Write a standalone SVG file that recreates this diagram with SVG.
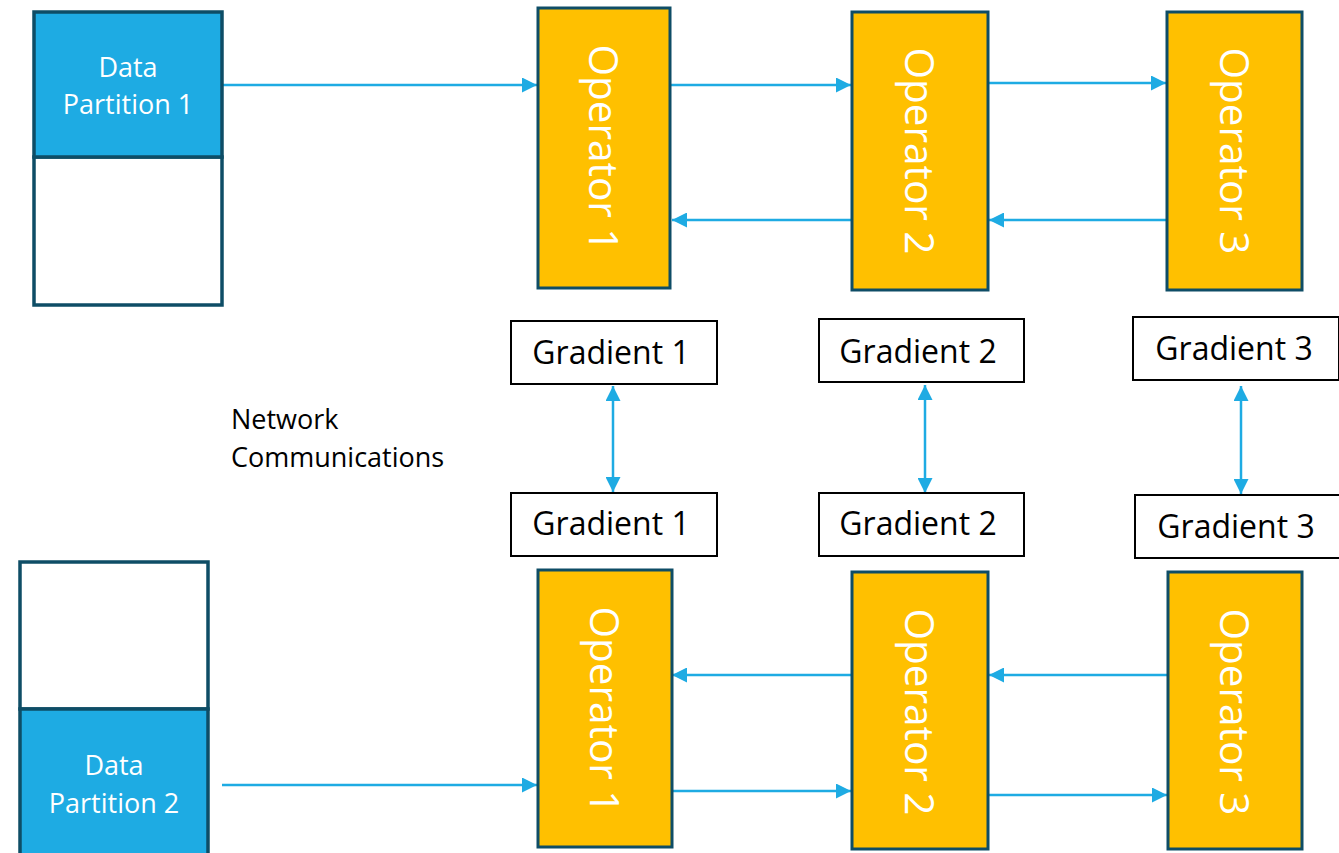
<svg xmlns="http://www.w3.org/2000/svg" width="1339" height="853" viewBox="0 0 1339 853">
<defs>
<marker id="ah" markerUnits="userSpaceOnUse" markerWidth="15" markerHeight="15" refX="15" refY="7.5" orient="auto-start-reverse" viewBox="0 0 15 15">
<path d="M0,0 L15,7.5 L0,15 z" fill="#1EABE3"/>
</marker>
<style>
.op{fill:#FFC000;stroke:#0E4D66;stroke-width:3}
.dp{fill:#1EABE3;stroke:#0E4D66;stroke-width:3.5}
.dpw{fill:#FFFFFF;stroke:#0E4D66;stroke-width:3.5}
.gb{fill:#FFFFFF;stroke:#000000;stroke-width:2}
.opt{font-family:"Open Sans","Noto Sans",sans-serif;font-weight:400;font-size:41px;fill:#FFFFFF;text-anchor:middle}
.dpt{font-family:"Open Sans","Noto Sans",sans-serif;font-size:27px;fill:#FFFFFF;text-anchor:middle}
.gt{font-family:"Open Sans","Noto Sans",sans-serif;font-size:32px;fill:#000000;text-anchor:middle}
.nt{font-family:"Open Sans","Noto Sans",sans-serif;font-size:27px;fill:#000000}
.c{stroke:#1EABE3;stroke-width:2.5;fill:none;marker-end:url(#ah)}
.cd{stroke:#1EABE3;stroke-width:2.5;fill:none;marker-end:url(#ah);marker-start:url(#ah)}
</style>
</defs>
<rect width="1339" height="853" fill="#FFFFFF"/>

<g id="connectors">
<line class="c" x1="222" y1="85" x2="537" y2="85"/>
<line class="c" x1="670" y1="85" x2="851" y2="85"/>
<line class="c" x1="988" y1="83" x2="1166" y2="83"/>
<line class="c" x1="852" y1="220" x2="672" y2="220"/>
<line class="c" x1="1167" y1="220" x2="989" y2="220"/>
<line class="cd" x1="613" y1="386" x2="613" y2="492"/>
<line class="cd" x1="925" y1="385" x2="925" y2="493"/>
<line class="cd" x1="1241" y1="386" x2="1241" y2="494"/>
<line class="c" x1="852" y1="675" x2="672" y2="675"/>
<line class="c" x1="1168" y1="675" x2="989" y2="675"/>
<line class="c" x1="222" y1="785" x2="537" y2="785"/>
<line class="c" x1="672" y1="791" x2="851" y2="791"/>
<line class="c" x1="988" y1="795" x2="1167" y2="795"/>
</g>

<g id="data-partition-1">
<rect class="dpw" x="34" y="157" width="188" height="148"/>
<rect class="dp" x="34" y="12" width="188" height="145"/>
<text class="dpt" x="128" y="77">Data</text>
<text class="dpt" x="128" y="114">Partition 1</text>
</g>

<g id="data-partition-2">
<rect class="dpw" x="20" y="562" width="188" height="147"/>
<rect class="dp" x="20" y="709" width="188" height="150"/>
<text class="dpt" x="114" y="775">Data</text>
<text class="dpt" x="114" y="813">Partition 2</text>
</g>

<g id="operator-1-top">
<rect class="op" x="538" y="8" width="132" height="280"/>
<text class="opt" transform="translate(604,148) rotate(90)" x="0" y="15" textLength="207" lengthAdjust="spacingAndGlyphs">Operator 1</text>
</g>
<g id="operator-2-top">
<rect class="op" x="852" y="12" width="136" height="278"/>
<text class="opt" transform="translate(920,151) rotate(90)" x="0" y="15" textLength="207" lengthAdjust="spacingAndGlyphs">Operator 2</text>
</g>
<g id="operator-3-top">
<rect class="op" x="1167" y="12" width="135" height="278"/>
<text class="opt" transform="translate(1235,151) rotate(90)" x="0" y="15" textLength="207" lengthAdjust="spacingAndGlyphs">Operator 3</text>
</g>

<g id="gradient-1-top">
<rect class="gb" x="511" y="321" width="206" height="63"/>
<text class="gt" x="611" y="364">Gradient 1</text>
</g>
<g id="gradient-2-top">
<rect class="gb" x="819" y="319" width="205" height="63"/>
<text class="gt" x="918" y="363">Gradient 2</text>
</g>
<g id="gradient-3-top">
<rect class="gb" x="1133" y="317" width="206" height="63"/>
<text class="gt" x="1234" y="360">Gradient 3</text>
</g>

<g id="network-communications">
<text class="nt" x="231" y="429">Network</text>
<text class="nt" x="231" y="467">Communications</text>
</g>

<g id="gradient-1-bottom">
<rect class="gb" x="511" y="493" width="206" height="63"/>
<text class="gt" x="611" y="535">Gradient 1</text>
</g>
<g id="gradient-2-bottom">
<rect class="gb" x="819" y="493" width="205" height="63"/>
<text class="gt" x="918" y="535">Gradient 2</text>
</g>
<g id="gradient-3-bottom">
<rect class="gb" x="1135" y="495" width="206" height="63"/>
<text class="gt" x="1236" y="538">Gradient 3</text>
</g>

<g id="operator-1-bottom">
<rect class="op" x="538" y="570" width="134" height="277"/>
<text class="opt" transform="translate(605,710) rotate(90)" x="0" y="15" textLength="207" lengthAdjust="spacingAndGlyphs">Operator 1</text>
</g>
<g id="operator-2-bottom">
<rect class="op" x="852" y="572" width="136" height="277"/>
<text class="opt" transform="translate(920,712) rotate(90)" x="0" y="15" textLength="207" lengthAdjust="spacingAndGlyphs">Operator 2</text>
</g>
<g id="operator-3-bottom">
<rect class="op" x="1168" y="572" width="134" height="277"/>
<text class="opt" transform="translate(1235,712) rotate(90)" x="0" y="15" textLength="207" lengthAdjust="spacingAndGlyphs">Operator 3</text>
</g>
</svg>
